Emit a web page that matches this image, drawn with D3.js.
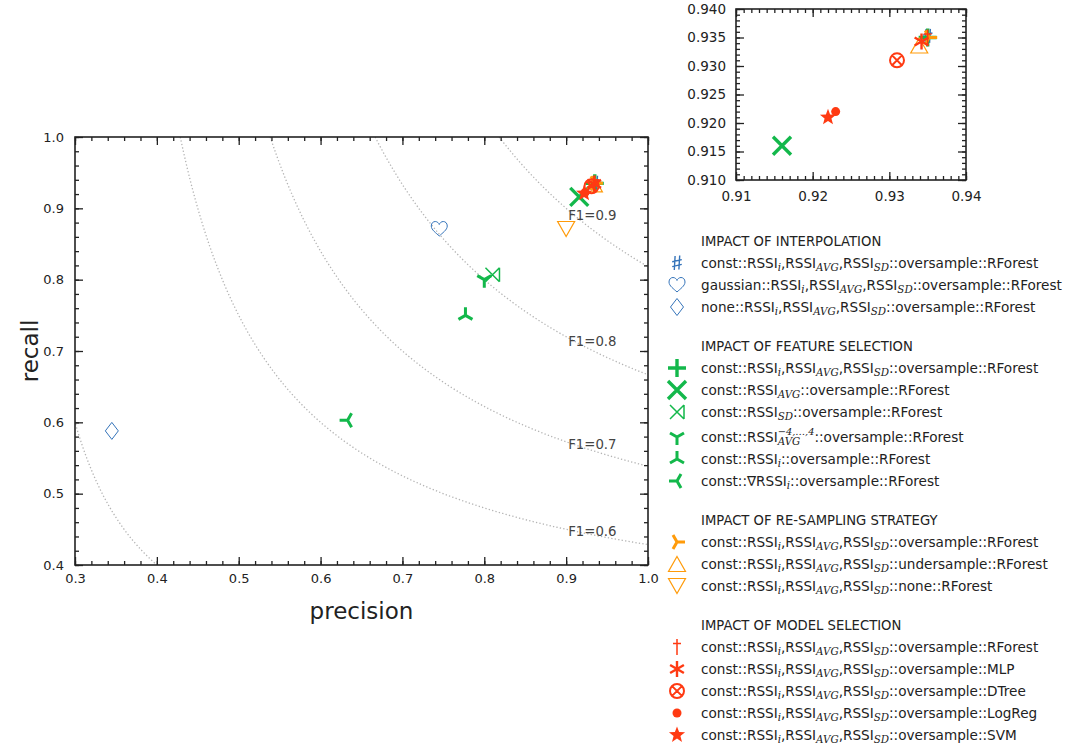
<!DOCTYPE html>
<html>
<head>
<meta charset="utf-8">
<script src="https://cdn.jsdelivr.net/npm/d3@7"></script>
<style>
  body { margin: 0; background: #fff; }
  text { font-family: "DejaVu Sans", sans-serif; }
</style>
</head>
<body>
<svg id="chart" width="1065" height="746"></svg>
<script>
// ---- data -----------------------------------------------------------------
const groupTitles = [
  "IMPACT OF INTERPOLATION",
  "IMPACT OF FEATURE SELECTION",
  "IMPACT OF RE-SAMPLING STRATEGY",
  "IMPACT OF MODEL SELECTION"
];

const interpolationLabels = [
  "const::RSSI_{i},RSSI_{AVG},RSSI_{SD}::oversample::RForest",
  "gaussian::RSSI_{i},RSSI_{AVG},RSSI_{SD}::oversample::RForest",
  "none::RSSI_{i},RSSI_{AVG},RSSI_{SD}::oversample::RForest"
];
const interpolationPrecision = [0.935, 0.745, 0.345];
const interpolationRecall    = [0.9352, 0.871, 0.588];

const featureLabels = [
  "const::RSSI_{i},RSSI_{AVG},RSSI_{SD}::oversample::RForest",
  "const::RSSI_{AVG}::oversample::RForest",
  "const::RSSI_{SD}::oversample::RForest",
  "const::RSSI_{AVG}^{\u22124,\u2026,4}::oversample::RForest",
  "const::RSSI_{i}::oversample::RForest",
  "const::\u2207RSSI_{i}::oversample::RForest"
];
const featurePrecision = [0.935, 0.916, 0.810, 0.800, 0.777, 0.633];
const featureRecall    = [0.935, 0.916, 0.807, 0.800, 0.750, 0.603];

const resamplingLabels = [
  "const::RSSI_{i},RSSI_{AVG},RSSI_{SD}::oversample::RForest",
  "const::RSSI_{i},RSSI_{AVG},RSSI_{SD}::undersample::RForest",
  "const::RSSI_{i},RSSI_{AVG},RSSI_{SD}::none::RForest"
];
const resamplingPrecision = [0.9352, 0.9339, 0.900];
const resamplingRecall    = [0.935, 0.9336, 0.871];

const modelLabels = [
  "const::RSSI_{i},RSSI_{AVG},RSSI_{SD}::oversample::RForest",
  "const::RSSI_{i},RSSI_{AVG},RSSI_{SD}::oversample::MLP",
  "const::RSSI_{i},RSSI_{AVG},RSSI_{SD}::oversample::DTree",
  "const::RSSI_{i},RSSI_{AVG},RSSI_{SD}::oversample::LogReg",
  "const::RSSI_{i},RSSI_{AVG},RSSI_{SD}::oversample::SVM"
];
const modelPrecision = [0.935, 0.9342, 0.931, 0.923, 0.922];
const modelRecall    = [0.935, 0.9343, 0.931, 0.922, 0.921];

// iso-F1 reference curves and the ones that carry a label
const f1Levels   = [0.4, 0.6, 0.7, 0.8, 0.9];
const f1Labelled = [0.6, 0.7, 0.8, 0.9];

const mainXTicks  = [0.3, 0.4, 0.5, 0.6, 0.7, 0.8, 0.9, 1.0];
const mainYTicks  = [0.4, 0.5, 0.6, 0.7, 0.8, 0.9, 1.0];
const insetXTicks = [0.91, 0.92, 0.93, 0.94];
const insetYTicks = [0.910, 0.915, 0.920, 0.925, 0.930, 0.935, 0.940];

// ---- styling ----------------------------------------------------------------
const groupColors = ["#3574ba", "#13b84b", "#ff9b0a", "#ff3a12"];
const groupMarkers = [
  ["sharp", "heart", "diamond"],
  ["plus", "x", "rtimes", "triDown", "triUp", "triLeft"],
  ["triRight", "triangleUp", "triangleDown"],
  ["dagger", "asterisk", "otimes", "dot", "star"]
];

const groups = [
  { labels: interpolationLabels, p: interpolationPrecision, r: interpolationRecall },
  { labels: featureLabels,       p: featurePrecision,       r: featureRecall },
  { labels: resamplingLabels,    p: resamplingPrecision,    r: resamplingRecall },
  { labels: modelLabels,         p: modelPrecision,         r: modelRecall }
].map((g, gi) => ({
  title: groupTitles[gi],
  color: groupColors[gi],
  items: g.labels.map((label, i) => ({
    label, precision: g.p[i], recall: g.r[i], marker: groupMarkers[gi][i]
  }))
}));

function starPath(ro, ri) {
  const pts = [];
  for (let k = 0; k < 10; k++) {
    const a = -Math.PI / 2 + k * Math.PI / 5;
    const rr = k % 2 === 0 ? ro : ri;
    pts.push([rr * Math.cos(a), rr * Math.sin(a)]);
  }
  return "M" + pts.map(p => p[0].toFixed(2) + "," + p[1].toFixed(2)).join("L") + "Z";
}

function markerSpec(type) {
  switch (type) {
    case "sharp":   return { d: "M-1.9,-7L-2.7,7M2.7,-7.5L1.9,6.5M-4.8,-1.2L4.8,-3.4M-4.8,3.6L4.8,1.4", fill: false, w: 1.4 };
    case "heart":   return { d: "M0,7C-3,4 -8,1 -8,-3C-8,-6 -6,-7.5 -4,-7.5C-2,-7.5 -0.5,-6 0,-4.5C0.5,-6 2,-7.5 4,-7.5C6,-7.5 8,-6 8,-3C8,1 3,4 0,7Z", fill: false, w: 1 };
    case "diamond": return { d: "M0,-8.5L6.5,0L0,8.5L-6.5,0Z", fill: false, w: 1 };
    case "plus":    return { d: "M-9,0H9M0,-9V9", fill: false, w: 3.4 };
    case "x":       return { d: "M-9,-9L9,9M-9,9L9,-9", fill: false, w: 3.4 };
    case "rtimes":  return { d: "M-7,-7L7,7M-7,7L7,-7M7,-7V7", fill: false, w: 1.5 };
    case "triDown": return { d: "M0,0V8M0,0L-7,-4M0,0L7,-4", fill: false, w: 3 };
    case "triUp":   return { d: "M0,0V-8M0,0L-7,4M0,0L7,4", fill: false, w: 3 };
    case "triLeft": return { d: "M0,0H-8M0,0L4,-7M0,0L4,7", fill: false, w: 3 };
    case "triRight":return { d: "M0,0H8M0,0L-4,-7M0,0L-4,7", fill: false, w: 3 };
    case "triangleUp":   return { d: "M0,-7.5L8.5,7.5L-8.5,7.5Z", fill: false, w: 1.2 };
    case "triangleDown": return { d: "M0,7.5L8.5,-7.5L-8.5,-7.5Z", fill: false, w: 1.2 };
    case "dagger":  return { d: "M0,-8V8M-4,-3.5H4", fill: false, w: 1.5 };
    case "asterisk":return { d: "M0,-8V8M-6.9,-4L6.9,4M-6.9,4L6.9,-4", fill: false, w: 2.4 };
    case "otimes":  return { d: "M7,0A7,7 0 1,1 -7,0A7,7 0 1,1 7,0ZM-4.9,-4.9L4.9,4.9M-4.9,4.9L4.9,-4.9", fill: false, w: 2 };
    case "dot":     return { d: "M4.5,0A4.5,4.5 0 1,1 -4.5,0A4.5,4.5 0 1,1 4.5,0Z", fill: true, w: 0 };
    case "star":    return { d: starPath(8.5, 3.6), fill: true, w: 0 };
  }
}

function drawMarker(sel, type, color) {
  const m = markerSpec(type);
  sel.append("path")
    .attr("d", m.d)
    .attr("fill", m.fill ? color : "none")
    .attr("stroke", m.fill ? "none" : color)
    .attr("stroke-width", m.w)
    .attr("stroke-linejoin", "miter")
    .attr("stroke-linecap", "butt");
}

// ---- layout -----------------------------------------------------------------
const svg = d3.select("#chart");
const ink = "#222";
const tickFont = 13;

function framedAxes(g, xs, ys, opt) {
  const [x0, x1] = xs.range();
  const [y0, y1] = ys.range();   // y0 bottom, y1 top
  const styleAxis = a => {
    a.select(".domain").remove();
    a.selectAll("line").attr("stroke", ink).attr("stroke-width", 1.3);
    a.selectAll("text").attr("font-family", "DejaVu Sans").attr("font-size", opt.font).attr("fill", ink);
  };
  const minorX = d3.range(Math.round(xs.domain()[0] / opt.xMinor), Math.round(xs.domain()[1] / opt.xMinor) + 1).map(k => k * opt.xMinor);
  const minorY = d3.range(Math.round(ys.domain()[0] / opt.yMinor), Math.round(ys.domain()[1] / opt.yMinor) + 1).map(k => k * opt.yMinor);

  // minor ticks on all four sides
  [[d3.axisBottom(xs), y0], [d3.axisTop(xs), y1]].forEach(([ax, ty]) => {
    g.append("g").attr("transform", `translate(0,${ty})`)
      .call(ax.tickValues(minorX).tickSizeInner(-4).tickSizeOuter(0).tickFormat(""))
      .call(styleAxis);
  });
  [[d3.axisLeft(ys), x0], [d3.axisRight(ys), x1]].forEach(([ax, tx]) => {
    g.append("g").attr("transform", `translate(${tx},0)`)
      .call(ax.tickValues(minorY).tickSizeInner(-4).tickSizeOuter(0).tickFormat(""))
      .call(styleAxis);
  });

  // major ticks; labels on bottom and left
  g.append("g").attr("transform", `translate(0,${y0})`)
    .call(d3.axisBottom(xs).tickValues(opt.xTicks).tickSizeInner(-8).tickSizeOuter(0)
      .tickPadding(opt.xPad).tickFormat(d3.format(opt.xFmt)))
    .call(styleAxis);
  g.append("g").attr("transform", `translate(0,${y1})`)
    .call(d3.axisTop(xs).tickValues(opt.xTicks).tickSizeInner(-8).tickSizeOuter(0).tickFormat(""))
    .call(styleAxis);
  g.append("g").attr("transform", `translate(${x0},0)`)
    .call(d3.axisLeft(ys).tickValues(opt.yTicks).tickSizeInner(-8).tickSizeOuter(0)
      .tickPadding(opt.yPad).tickFormat(d3.format(opt.yFmt)))
    .call(styleAxis);
  g.append("g").attr("transform", `translate(${x1},0)`)
    .call(d3.axisRight(ys).tickValues(opt.yTicks).tickSizeInner(-8).tickSizeOuter(0).tickFormat(""))
    .call(styleAxis);

  g.append("rect")
    .attr("x", x0).attr("y", y1).attr("width", x1 - x0).attr("height", y0 - y1)
    .attr("fill", "none").attr("stroke", ink).attr("stroke-width", 1.6);
}

// ---- main precision / recall panel -----------------------------------------------
const x = d3.scaleLinear().domain([0.3, 1.0]).range([75, 648]);
const y = d3.scaleLinear().domain([0.4, 1.0]).range([565, 137]);

const defs = svg.append("defs");
defs.append("clipPath").attr("id", "clipMain").append("rect")
  .attr("x", 75).attr("y", 137).attr("width", 573).attr("height", 428);
defs.append("clipPath").attr("id", "clipInset").append("rect")
  .attr("x", 736).attr("y", 9).attr("width", 230).attr("height", 171);

const main = svg.append("g");
const f1Recall = (F, p) => F * p / (2 * p - F);

const curves = main.append("g").attr("clip-path", "url(#clipMain)");
f1Levels.forEach(F => {
  const p0 = F / (2 - F);
  const pts = d3.range(Math.max(p0, 0.25), 1.0005, 0.002).map(p => [p, f1Recall(F, p)]);
  curves.append("path")
    .attr("d", d3.line().x(d => x(d[0])).y(d => y(d[1]))(pts))
    .attr("fill", "none")
    .attr("stroke", "#b4b4b4")
    .attr("stroke-width", 1.3)
    .attr("stroke-dasharray", "1.3,2.2");
});
f1Labelled.forEach(F => {
  main.append("text")
    .attr("x", x(0.9) + 2)
    .attr("y", y(f1Recall(F, 0.91)))
    .attr("dy", "0.36em")
    .attr("font-size", 13.3)
    .attr("fill", "#444")
    .text("F1=" + F.toFixed(1));
});

framedAxes(main, x, y, {
  xTicks: mainXTicks, yTicks: mainYTicks, xMinor: 0.02, yMinor: 0.02,
  xFmt: ".1f", yFmt: ".1f", xPad: 9, yPad: 11, font: 13
});

main.append("text")
  .attr("x", (75 + 648) / 2).attr("y", 611).attr("dy", "0.35em")
  .attr("text-anchor", "middle").attr("font-size", 23).attr("fill", ink)
  .text("precision");
main.append("text")
  .attr("transform", `translate(30,${(137 + 565) / 2}) rotate(-90)`)
  .attr("dy", "0.35em")
  .attr("text-anchor", "middle").attr("font-size", 23).attr("fill", ink)
  .text("recall");

const mainMarks = main.append("g").attr("clip-path", "url(#clipMain)");
groups.forEach(g => g.items.forEach(it => {
  const mk = mainMarks.append("g").attr("transform", `translate(${x(it.precision)},${y(it.recall)})`);
  drawMarker(mk, it.marker, g.color);
}));

// ---- zoomed inset on the top-right cluster ----------------------------------------
const ix = d3.scaleLinear().domain([0.91, 0.94]).range([736, 966]);
const iy = d3.scaleLinear().domain([0.910, 0.940]).range([180, 9]);
const inset = svg.append("g");
framedAxes(inset, ix, iy, {
  xTicks: insetXTicks, yTicks: insetYTicks, xMinor: 0.001, yMinor: 0.001,
  xFmt: ".2f", yFmt: ".3f", xPad: 11, yPad: 10, font: 13.5
});
const insetMarks = inset.append("g").attr("clip-path", "url(#clipInset)");
groups.forEach(g => g.items.forEach(it => {
  const mk = insetMarks.append("g").attr("transform", `translate(${ix(it.precision)},${iy(it.recall)})`);
  drawMarker(mk, it.marker, g.color);
}));

// ---- legend -------------------------------------------------------------------
const legend = svg.append("g");
const legendMarkerX = 677, legendTextX = 701;
const textSize = 13.6, subSize = 10.3;

function richLabel(textSel, label) {
  const parts = label.split(/(_\{[^}]*\}|\^\{[^}]*\})/).filter(s => s.length);
  let shift = 0;      // current vertical offset from baseline
  let lastSubWidth = 0;
  let pendingDx = 0;
  parts.forEach(part => {
    if (part.startsWith("_{")) {
      const t = textSel.append("tspan")
        .attr("dy", 3.2 - shift)
        .attr("font-family", "DejaVu Serif").attr("font-style", "italic")
        .attr("font-size", subSize)
        .text(part.slice(2, -1));
      shift = 3.2;
      lastSubWidth = t.node().getComputedTextLength();
    } else if (part.startsWith("^{")) {
      const t = textSel.append("tspan")
        .attr("dx", -lastSubWidth)
        .attr("dy", -7 - shift)
        .attr("font-family", "DejaVu Serif").attr("font-style", "italic")
        .attr("font-size", subSize - 0.5)
        .text(part.slice(2, -1));
      shift = -7;
      const w = t.node().getComputedTextLength();
      pendingDx = Math.max(0, lastSubWidth - w);
    } else {
      textSel.append("tspan")
        .attr("dx", pendingDx)
        .attr("dy", -shift)
        .attr("font-size", textSize)
        .text(part);
      shift = 0;
      pendingDx = 0;
    }
  });
}

let ly = 241;
groups.forEach((g, gi) => {
  if (gi > 0) ly += 17;
  legend.append("text")
    .attr("x", legendTextX).attr("y", ly).attr("dy", "0.36em")
    .attr("font-size", 13.2).attr("fill", ink)
    .text(g.title);
  g.items.forEach(it => {
    ly += 22;
    if (it.label.includes("^{")) ly += 3;
    const mk = legend.append("g").attr("transform", `translate(${legendMarkerX},${ly})`);
    drawMarker(mk, it.marker, g.color);
    const t = legend.append("text")
      .attr("x", legendTextX).attr("y", ly + 4.8)
      .attr("fill", ink);
    richLabel(t, it.label);
  });
  ly += 22;
});
</script>
</body>
</html>
